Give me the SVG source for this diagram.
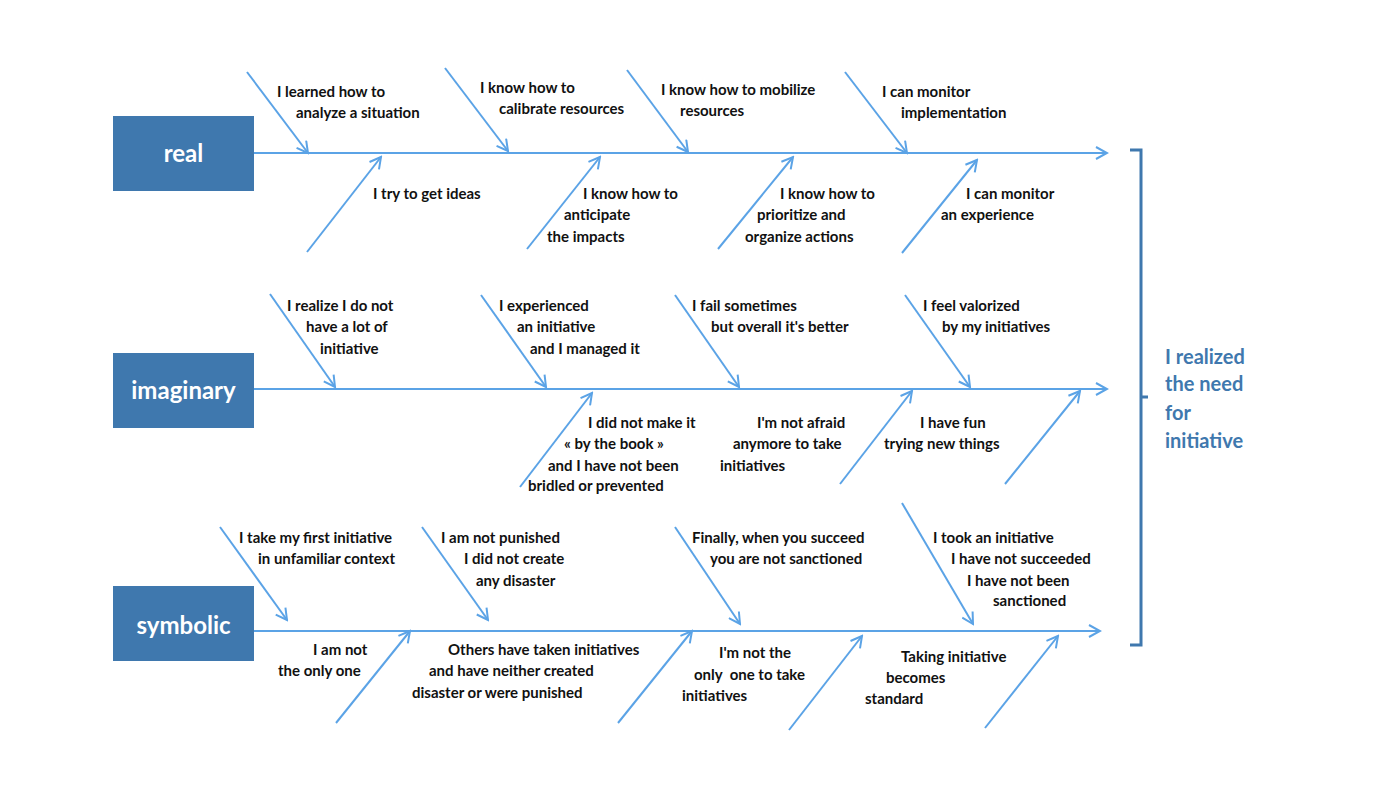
<svg xmlns="http://www.w3.org/2000/svg" width="1400" height="800" viewBox="0 0 1400 800">
<defs>
<marker id="ah" markerWidth="14" markerHeight="14" refX="12" refY="7" orient="auto" markerUnits="userSpaceOnUse">
<path d="M1,1 L12,7 L1,13" fill="none" stroke="#5ba3e6" stroke-width="2"/>
</marker>
<style>
.c line{stroke:#5ba3e6;stroke-width:2;marker-end:url(#ah)}
.t{font-family:Lato,"Liberation Sans",sans-serif;font-weight:bold;font-size:15px;fill:#111}
.box{fill:#3f78ae}
.bt{font-family:Lato,"Liberation Sans",sans-serif;font-weight:bold;font-size:24px;fill:#fff;text-anchor:middle}
.eff{font-family:Lato,"Liberation Sans",sans-serif;font-weight:bold;font-size:20px;fill:#3f78ae}
</style>
</defs>
<rect width="1400" height="800" fill="#fff"/>
<g id="connectors" class="c">
<line x1="254" y1="153" x2="1107" y2="153"/>
<line x1="254" y1="389" x2="1107" y2="389"/>
<line x1="254" y1="631" x2="1100" y2="631"/>
<line x1="247" y1="72" x2="308" y2="153"/>
<line x1="445" y1="68" x2="508" y2="151"/>
<line x1="627" y1="70" x2="688" y2="152"/>
<line x1="845" y1="72" x2="907" y2="153"/>
<line x1="307" y1="252" x2="381" y2="157"/>
<line x1="527" y1="249" x2="600" y2="157"/>
<line x1="718" y1="249" x2="793" y2="157"/>
<line x1="902" y1="253" x2="977" y2="160"/>
<line x1="270" y1="294" x2="335" y2="387"/>
<line x1="481" y1="295" x2="546" y2="387"/>
<line x1="675" y1="295" x2="739" y2="387"/>
<line x1="905" y1="295" x2="970" y2="387"/>
<line x1="520" y1="487" x2="592" y2="393"/>
<line x1="840" y1="484" x2="912" y2="391"/>
<line x1="1005" y1="484" x2="1080" y2="391"/>
<line x1="220" y1="527" x2="287" y2="620"/>
<line x1="422" y1="527" x2="488" y2="620"/>
<line x1="675" y1="527" x2="740" y2="624"/>
<line x1="902" y1="503" x2="973" y2="624"/>
<line x1="336" y1="723" x2="410" y2="631"/>
<line x1="618" y1="723" x2="692" y2="631"/>
<line x1="789" y1="730" x2="862" y2="636"/>
<line x1="985" y1="728" x2="1058" y2="636"/>
</g>
<g id="real"><rect class="box" x="113" y="116" width="141" height="75"/><text class="bt" x="183.5" y="162">real</text></g>
<g id="imaginary"><rect class="box" x="113" y="353" width="141" height="75"/><text class="bt" x="183.5" y="399">imaginary</text></g>
<g id="symbolic"><rect class="box" x="113" y="586" width="141" height="75"/><text class="bt" x="183.5" y="634">symbolic</text></g>
<g id="effect">
<path d="M1130,150 H1141 V645 H1130 M1141,397 H1148" fill="none" stroke="#3f78ae" stroke-width="3"/>
<text class="eff" x="1165" y="364">I realized</text>
<text class="eff" x="1165" y="391">the need</text>
<text class="eff" x="1165" y="420">for</text>
<text class="eff" x="1165" y="448">initiative</text>
</g>
<g id="labels" class="t">
<text x="277" y="97">I learned how to</text><text x="296" y="118">analyze a situation</text>
<text x="480" y="93">I know how to</text><text x="499" y="114">calibrate resources</text>
<text x="661" y="95">I know how to mobilize</text><text x="680" y="116">resources</text>
<text x="882" y="97">I can monitor</text><text x="901" y="118">implementation</text>
<text x="373" y="199">I try to get ideas</text>
<text x="583" y="199">I know how to</text><text x="564" y="220">anticipate</text><text x="547" y="242">the impacts</text>
<text x="780" y="199">I know how to</text><text x="757" y="220">prioritize and</text><text x="745" y="242">organize actions</text>
<text x="966" y="199">I can monitor</text><text x="941" y="220">an experience</text>
<text x="287" y="311">I realize I do not</text><text x="306" y="332">have a lot of</text><text x="320" y="354">initiative</text>
<text x="499" y="311">I experienced</text><text x="517" y="332">an initiative</text><text x="530" y="354">and I managed it</text>
<text x="692" y="311">I fail sometimes</text><text x="711" y="332">but overall it's better</text>
<text x="923" y="311">I feel valorized</text><text x="942" y="332">by my initiatives</text>
<text x="588" y="428">I did not make it</text><text x="564" y="449">« by the book »</text><text x="548" y="471">and I have not been</text><text x="528" y="491">bridled or prevented</text>
<text x="757" y="428">I'm not afraid</text><text x="733" y="449">anymore to take</text><text x="720" y="471">initiatives</text>
<text x="920" y="428">I have fun</text><text x="884" y="449">trying new things</text>
<text x="239" y="543">I take my first initiative</text><text x="258" y="564">in unfamiliar context</text>
<text x="441" y="543">I am not punished</text><text x="464" y="564">I did not create</text><text x="476" y="586">any disaster</text>
<text x="692" y="543">Finally, when you succeed</text><text x="710" y="564">you are not sanctioned</text>
<text x="933" y="543">I took an initiative</text><text x="951" y="564">I have not succeeded</text><text x="967" y="586">I have not been</text><text x="993" y="606">sanctioned</text>
<text x="313" y="655">I am not</text><text x="278" y="676">the only one</text>
<text x="448" y="655">Others have taken initiatives</text><text x="429" y="676">and have neither created</text><text x="412" y="698">disaster or were punished</text>
<text x="719" y="658">I'm not the</text><text x="694" y="680" xml:space="preserve">only  one to take</text><text x="682" y="701">initiatives</text>
<text x="901" y="662">Taking initiative</text><text x="886" y="683">becomes</text><text x="865" y="704">standard</text>
</g>
</svg>
